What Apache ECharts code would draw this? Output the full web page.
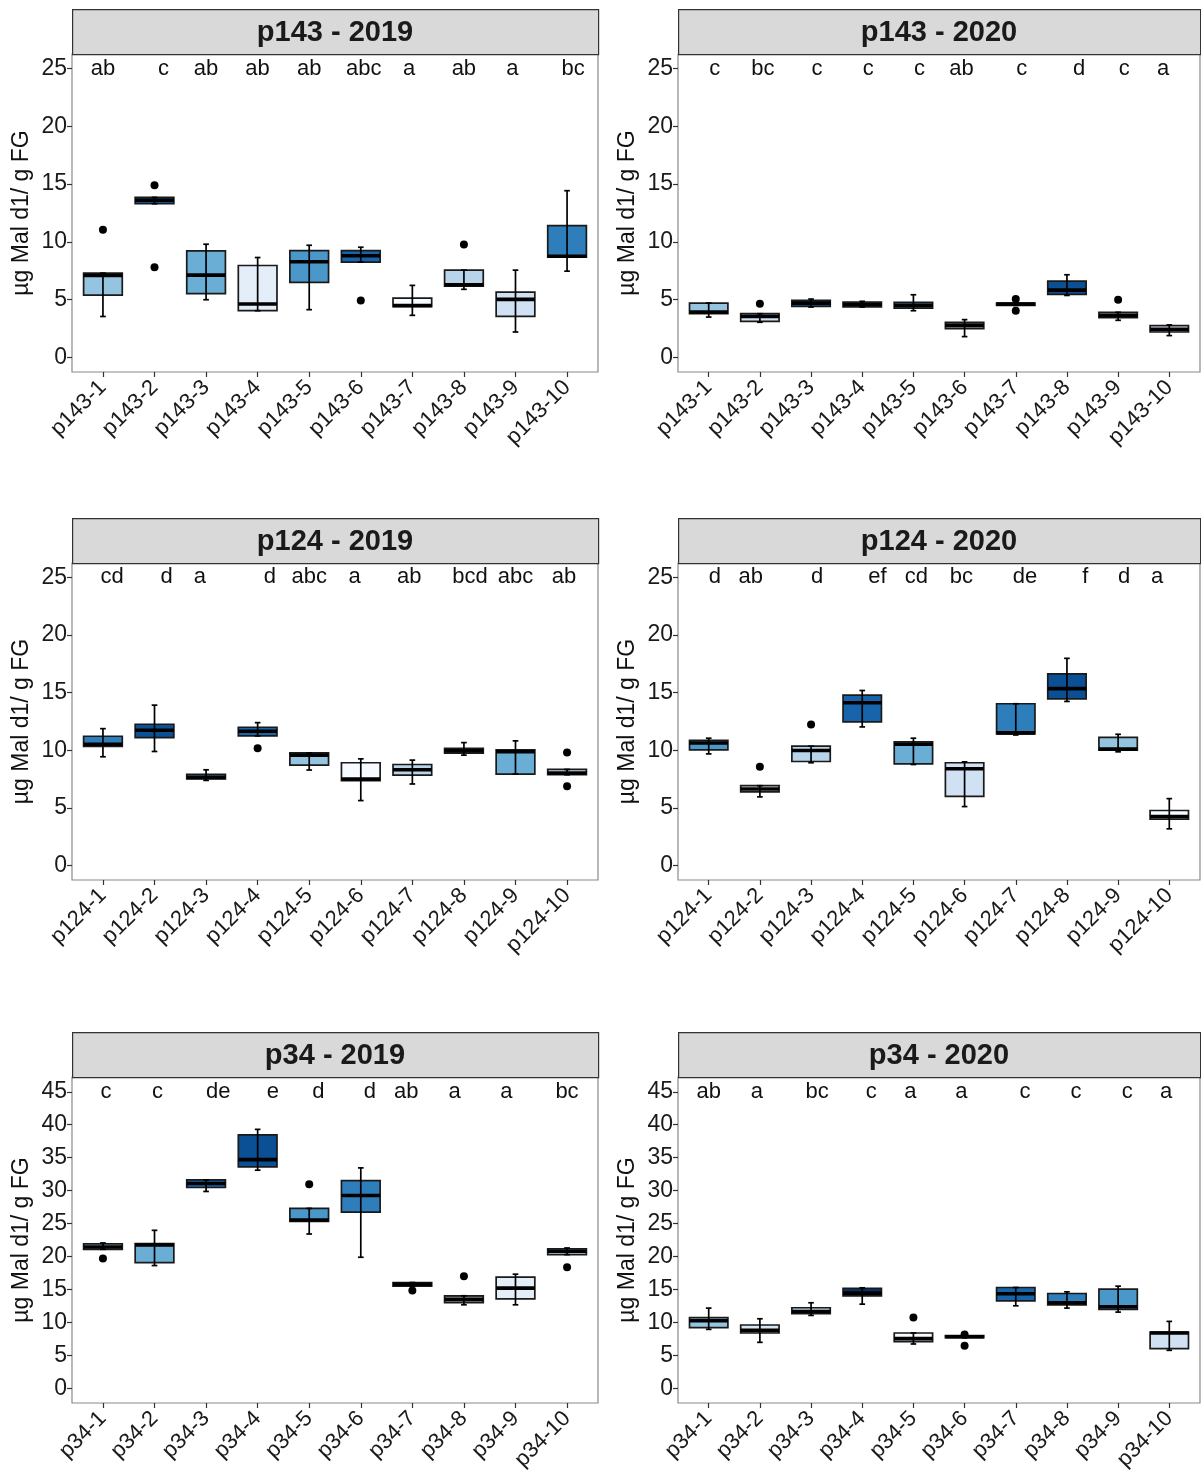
<!DOCTYPE html>
<html><head><meta charset="utf-8">
<script src="https://cdn.jsdelivr.net/npm/echarts@6/dist/echarts.min.js"></script>
<style>html,body{margin:0;padding:0;background:#fff}#c{width:1201px;height:1475px}</style>
</head><body><div id="c"></div>
<script>
// ---------- categories ----------
const cats_p143 = ['p143-1','p143-2','p143-3','p143-4','p143-5','p143-6','p143-7','p143-8','p143-9','p143-10'];
const cats_p124 = ['p124-1','p124-2','p124-3','p124-4','p124-5','p124-6','p124-7','p124-8','p124-9','p124-10'];
const cats_p34  = ['p34-1','p34-2','p34-3','p34-4','p34-5','p34-6','p34-7','p34-8','p34-9','p34-10'];
const ticks_25 = [0,5,10,15,20,25];
const ticks_45 = [0,5,10,15,20,25,30,35,40,45];

// ---------- box stats: [whisker low, Q1, median, Q3, whisker high] ----------
const box_p143_2019 = [[3.55,5.4,7.1,7.3,7.3],[13.3,13.3,13.6,13.85,13.85],[5.0,5.52,7.13,9.22,9.8],[4.05,4.05,4.63,7.96,8.65],[4.14,6.5,8.28,9.25,9.71],[8.25,8.25,8.8,9.25,9.54],[3.65,4.4,4.5,5.14,6.24],[5.9,6.18,6.3,7.56,7.56],[2.21,3.56,5.03,5.66,7.56],[7.47,8.68,8.76,11.41,14.43]];
const out_p143_2019 = [[1,11.05],[2,14.9],[2,7.8],[6,4.94],[8,9.77]];
const let_p143_2019 = ['ab ','  c','ab ','ab ','ab ','abc','a  ','ab ','a  ',' bc'];

const box_p143_2020 = [[3.5,3.79,3.94,4.71,4.71],[3.05,3.13,3.56,3.79,3.79],[4.37,4.43,4.71,4.94,5.06],[4.37,4.37,4.57,4.8,4.86],[4.05,4.28,4.51,4.77,5.43],[1.81,2.5,2.79,3.05,3.28],[4.51,4.51,4.63,4.71,4.71],[5.37,5.46,5.83,6.61,7.16],[3.22,3.45,3.65,3.91,3.91],[1.9,2.21,2.44,2.76,2.82]];
const out_p143_2020 = [[2,4.66],[7,5.06],[7,4.05],[9,5.0]];
const let_p143_2020 = ['  c ',' bc ','  c ','  c ','  c ','ab  ','  c ','   d','  c ','a   '];

const box_p124_2019 = [[9.44,10.33,10.53,11.22,11.88],[9.9,11.1,11.74,12.26,13.92],[7.39,7.51,7.65,7.91,8.31],[11.25,11.25,11.65,12.0,12.4],[8.29,8.72,9.58,9.78,9.78],[5.64,7.36,7.51,8.92,9.26],[7.08,7.85,8.31,8.77,9.15],[9.58,9.75,9.95,10.18,10.67],[7.94,7.94,9.87,10.04,10.82],[7.88,7.88,8.03,8.34,8.34]];
const out_p124_2019 = [[4,10.18],[10,9.81],[10,6.88]];
const let_p124_2019 = ['  cd','   d','a   ','   d','abc ','a   ','ab  ',' bcd','abc ','ab  '];

const box_p124_2020 = [[9.69,10.04,10.64,10.87,11.05],[5.96,6.39,6.65,6.93,6.93],[8.92,9.03,9.98,10.36,10.36],[12.03,12.46,14.13,14.79,15.19],[8.77,8.83,10.53,10.73,11.05],[5.12,6.01,8.4,8.92,9.0],[11.33,11.42,11.51,14.04,14.04],[14.24,14.47,15.35,16.63,17.98],[9.87,10.01,10.1,11.13,11.39],[3.19,4.03,4.26,4.78,5.81]];
const out_p124_2020 = [[2,8.57],[3,12.23]];
const let_p124_2020 = ['   d  ','ab    ','   d  ','    ef','  cd  ',' bc   ','   de ','     f','   d  ','a     '];

const box_p34_2019 = [[21.09,21.09,21.44,21.9,22.05],[18.62,19.07,21.75,21.95,23.97],[29.87,30.47,31.08,31.63,31.63],[33.1,33.6,34.71,38.45,39.3],[23.41,25.33,25.53,27.3,27.3],[19.88,26.74,29.26,31.53,33.45],[15.49,15.49,15.79,16.04,16.04],[12.66,12.97,13.47,14.03,14.03],[12.66,13.57,15.19,16.85,17.31],[20.28,20.28,20.79,21.14,21.29]];
const out_p34_2019 = [[1,19.68],[5,30.98],[7,14.83],[8,17.0],[10,18.37]];
const let_p34_2019 = ['  c  ','  c  ','   de','    e','   d ','   d ','ab   ','a    ','a    ',' bc  '];

const box_p34_2020 = [[8.93,9.18,10.24,10.7,12.16],[6.96,8.38,8.78,9.59,10.54],[11.05,11.3,11.65,12.21,12.97],[12.76,14.03,14.43,15.14,15.24],[6.71,7.06,7.52,8.38,8.38],[7.67,7.67,7.82,7.97,7.97],[12.51,13.27,14.33,15.29,15.29],[12.16,12.66,12.97,14.38,14.63],[11.55,11.96,12.36,15.04,15.49],[5.75,6.0,8.38,8.53,10.14]];
const out_p34_2020 = [[5,10.75],[6,8.17],[6,6.46]];
const let_p34_2020 = ['ab ','a  ',' bc','  c','a  ','a  ','  c','  c','  c','a  '];

// ---------- fills (style) ----------
const fill_p143_2019 = ['#94C4DF','#0B4F94','#6AAED6','#E3EEF8','#4A98C9','#1764AB','#F7FBFF','#B7D4EA','#CFE1F2','#2E7EBC'];
const fill_p143_2020 = ['#94C4DF','#CFE1F2','#1764AB','#2E7EBC','#4A98C9','#7F7F7F','#6AAED6','#0B4F94','#B7D4EA','#E3EEF8'];
const fill_p124_2019 = ['#2E7EBC','#0B4F94','#4A98C9','#1764AB','#94C4DF','#F7FBFF','#B7D4EA','#E3EEF8','#6AAED6','#CFE1F2'];
const fill_p124_2020 = ['#4A98C9','#E3EEF8','#B7D4EA','#1764AB','#6AAED6','#CFE1F2','#2E7EBC','#0B4F94','#94C4DF','#F7FBFF'];
const fill_p34_2019  = ['#94C4DF','#6AAED6','#1764AB','#0B4F94','#4A98C9','#2E7EBC','#CFE1F2','#7F7F7F','#E3EEF8','#B7D4EA'];
const fill_p34_2020  = ['#94C4DF','#D6E6F4','#B7D4EA','#08306B','#F7FBFF','#E3EEF8','#1764AB','#2E7EBC','#4A98C9','#CFE1F2'];

const panels = [
  {title:'p143 - 2019', cats:cats_p143, box:box_p143_2019, out:out_p143_2019, letters:let_p143_2019, fill:fill_p143_2019, ticks:ticks_25, top:25},
  {title:'p143 - 2020', cats:cats_p143, box:box_p143_2020, out:out_p143_2020, letters:let_p143_2020, fill:fill_p143_2020, ticks:ticks_25, top:25},
  {title:'p124 - 2019', cats:cats_p124, box:box_p124_2019, out:out_p124_2019, letters:let_p124_2019, fill:fill_p124_2019, ticks:ticks_25, top:25},
  {title:'p124 - 2020', cats:cats_p124, box:box_p124_2020, out:out_p124_2020, letters:let_p124_2020, fill:fill_p124_2020, ticks:ticks_25, top:25},
  {title:'p34 - 2019',  cats:cats_p34,  box:box_p34_2019,  out:out_p34_2019,  letters:let_p34_2019,  fill:fill_p34_2019,  ticks:ticks_45, top:45},
  {title:'p34 - 2020',  cats:cats_p34,  box:box_p34_2020,  out:out_p34_2020,  letters:let_p34_2020,  fill:fill_p34_2020,  ticks:ticks_45, top:45}
];

// ---------- layout ----------
const FONT = '"Liberation Sans", Arial, sans-serif';
const colX = [{left:72, width:526}, {left:678, width:522}];
const rowY = [{top:54, height:318}, {top:563, height:317}, {top:1077, height:326}];
const STRIP_H = 45;
const idxList = [1,2,3,4,5,6,7,8,9,10];

const chart = echarts.init(document.getElementById('c'), null, {renderer:'canvas'});
const grid = [], xAxis = [], yAxis = [], series = [], graphic = [];

panels.forEach((p, k) => {
  const c = colX[k % 2], r = rowY[Math.floor(k / 2)];
  grid.push({left:c.left, top:r.top, width:c.width, height:r.height, show:true, borderColor:'#8a8a8a', borderWidth:1.2, backgroundColor:'#fff', containLabel:false});
  xAxis.push({type:'value', gridIndex:k, min:0.4, max:10.6, position:'bottom',
    axisLine:{show:false, onZero:false}, splitLine:{show:false},
    axisTick:{show:true, customValues:idxList, length:5, lineStyle:{color:'#333', width:1.2}},
    axisLabel:{show:true, customValues:idxList, rotate:45, margin:12, fontSize:22, color:'#1a1a1a', fontFamily:FONT,
      formatter: v => p.cats[Math.round(v) - 1]}
  });
  yAxis.push({type:'value', gridIndex:k, min:-0.05 * p.top, max:1.05 * p.top, position:'left',
    axisLine:{show:false, onZero:false}, splitLine:{show:false},
    axisTick:{show:true, customValues:p.ticks, length:5, lineStyle:{color:'#333', width:1.2}},
    axisLabel:{show:true, customValues:p.ticks, margin:5, fontSize:23, color:'#1a1a1a', fontFamily:FONT}
  });
  // boxes
  series.push({type:'custom', xAxisIndex:k, yAxisIndex:k, clip:false,
    data: p.box.map((b, i) => [i + 1].concat(b)),
    encode:{x:0, y:[1,2,3,4,5]},
    renderItem: (params, api) => {
      const i = api.value(0);
      const pLo = api.coord([i, api.value(1)]), pQ1 = api.coord([i, api.value(2)]),
            pMd = api.coord([i, api.value(3)]), pQ3 = api.coord([i, api.value(4)]),
            pHi = api.coord([i, api.value(5)]);
      const bw = api.size([0.75, 0])[0], cw = api.size([0.11, 0])[0];
      const x = pMd[0];
      return {type:'group', children:[
        {type:'rect', shape:{x:x - bw/2, y:pQ3[1], width:bw, height:Math.max(pQ1[1] - pQ3[1], 0.1)},
          style:{fill:p.fill[params.dataIndex], stroke:'#1a1a1a', lineWidth:1.7}},
        {type:'line', shape:{x1:x - bw/2, y1:pMd[1], x2:x + bw/2, y2:pMd[1]}, style:{stroke:'#000', lineWidth:3.6}},
        {type:'line', shape:{x1:x, y1:pLo[1], x2:x, y2:pHi[1]}, style:{stroke:'#000', lineWidth:1.7}},
        {type:'line', shape:{x1:x - cw/2, y1:pLo[1], x2:x + cw/2, y2:pLo[1]}, style:{stroke:'#000', lineWidth:1.7}},
        {type:'line', shape:{x1:x - cw/2, y1:pHi[1], x2:x + cw/2, y2:pHi[1]}, style:{stroke:'#000', lineWidth:1.7}}
      ]};
    }
  });
  // outliers
  series.push({type:'scatter', xAxisIndex:k, yAxisIndex:k, data:p.out, symbol:'circle', symbolSize:8,
    itemStyle:{color:'#000', opacity:1}, silent:true, z:5});
  // letters
  series.push({type:'custom', xAxisIndex:k, yAxisIndex:k, clip:false,
    data: p.letters.map((t, i) => [i + 1, p.top]),
    renderItem: (params, api) => {
      const pt = api.coord([api.value(0), api.value(1)]);
      return {type:'text', x:pt[0] + 3, y:pt[1], style:{text:p.letters[params.dataIndex], fontSize:22, fontFamily:FONT,
        fill:'#111', align:'center', verticalAlign:'middle'}};
    }
  });
  // strip
  graphic.push({type:'rect', left:c.left, top:r.top - STRIP_H, shape:{width:c.width, height:STRIP_H},
    style:{fill:'#D9D9D9', stroke:'#333', lineWidth:1.2}, z:10});
  graphic.push({type:'text', x:c.left + c.width/2, y:r.top - STRIP_H/2 + 1,
    style:{text:p.title, fontSize:29, fontWeight:'bold', fontFamily:FONT, fill:'#1a1a1a', align:'center', verticalAlign:'middle'}, z:11});
  // y title
  graphic.push({type:'text', x:c.left - 50, y:r.top + r.height/2, rotation:Math.PI/2,
    style:{text:'µg Mal d1/ g FG', fontSize:23, fontFamily:FONT, fill:'#111', align:'center', verticalAlign:'middle'}, z:11});
});

chart.setOption({animation:false, backgroundColor:'#fff', grid, xAxis, yAxis, series, graphic});
</script></body></html>
